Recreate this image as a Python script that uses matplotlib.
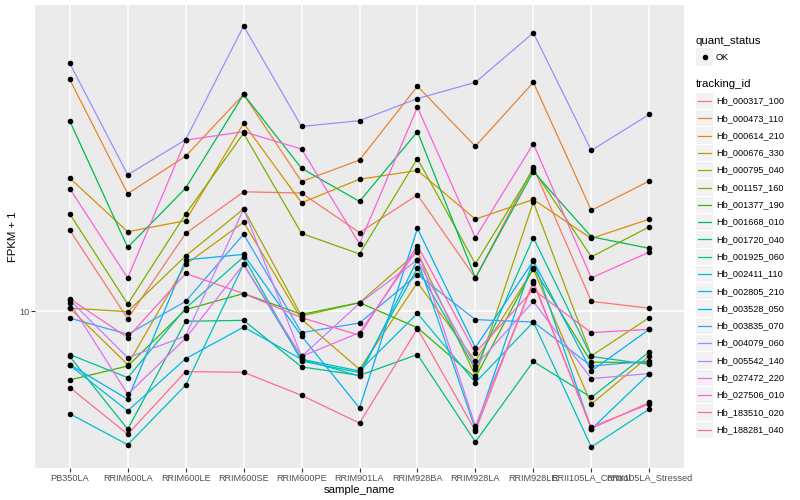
import matplotlib
matplotlib.use("Agg")
import matplotlib.pyplot as plt
from matplotlib.patches import Rectangle
import numpy as np

plt.rcParams['font.family'] = ['Liberation Sans', 'DejaVu Sans']

samples = ["PB350LA", "RRIM600LA", "RRIM600LE", "RRIM600SE", "RRIM600PE", "RRIM901LA",
           "RRIM928BA", "RRIM928LA", "RRIM928LE", "RRII105LA_Control", "RRII105LA_Stressed"]

tracking_ids = ["Hb_000317_100", "Hb_000473_110", "Hb_000614_210", "Hb_000676_330",
                "Hb_000795_040", "Hb_001157_160", "Hb_001377_190", "Hb_001668_010",
                "Hb_001720_040", "Hb_001925_060", "Hb_002411_110", "Hb_002805_210",
                "Hb_003528_050", "Hb_003835_070", "Hb_004079_060", "Hb_005542_140",
                "Hb_027472_220", "Hb_027506_010", "Hb_183510_020", "Hb_188281_040"]

# ggplot default hue palette for 20 groups
colours = ["#F8766D", "#EA8331", "#D89000", "#C09B00", "#A3A500", "#7CAE00", "#39B600",
           "#00BB4E", "#00BF7D", "#00C1A3", "#00BFC4", "#00BAE0", "#00B0F6", "#35A2FF",
           "#9590FF", "#C77CFF", "#E76BF3", "#FA62DB", "#FF62BC", "#FF6C91"]

# FPKM + 1 per sample
hb_000317_100 = [17.6, 9.48, 17.2, 23.0, 22.8, 17.3, 22.5, 12.6, 27.3, 10.7, 10.2]
hb_000473_110 = [50.4, 22.7, 29.5, 45.4, 24.7, 28.7, 48.1, 31.6, 49.4, 20.2, 24.8]
hb_000614_210 = [25.3, 17.4, 18.8, 37.1, 21.3, 25.1, 26.7, 19.0, 21.8, 16.6, 19.0]
hb_000676_330 = [10.2, 6.88, 13.85, 18.6, 9.44, 6.66, 12.2, 7.05, 13.4, 5.22, 7.31]
hb_000795_040 = [10.2, 9.96, 14.7, 20.4, 9.66, 10.6, 15.1, 6.35, 21.4, 7.31, 9.55]
hb_001157_160 = [19.7, 10.5, 19.7, 34.6, 17.2, 14.9, 29.0, 13.9, 26.9, 14.6, 18.0]
hb_001377_190 = [6.18, 6.81, 10.1, 11.3, 9.77, 10.6, 8.90, 6.28, 13.5, 7.00, 6.97]
hb_001668_010 = [37.7, 15.6, 23.6, 45.4, 27.1, 21.5, 35.0, 12.6, 26.5, 16.8, 15.5]
hb_001720_040 = [7.28, 4.38, 9.31, 9.37, 6.77, 6.38, 7.38, 4.01, 7.03, 5.47, 7.51]
hb_001925_060 = [7.38, 6.28, 10.2, 14.6, 7.05, 6.51, 13.5, 6.66, 16.7, 7.28, 6.89]
hb_002411_110 = [4.88, 3.93, 5.96, 13.85, 7.14, 6.58, 9.84, 6.07, 9.26, 3.87, 5.04]
hb_002805_210 = [6.85, 4.98, 7.17, 8.94, 7.14, 6.35, 14.3, 4.38, 14.3, 4.38, 6.46]
hb_003528_050 = [6.88, 5.40, 14.3, 14.85, 8.40, 5.08, 17.8, 7.75, 14.2, 6.58, 8.80]
hb_003835_070 = [9.52, 8.50, 10.7, 17.1, 8.60, 9.20, 12.9, 9.42, 9.26, 6.81, 7.05]
hb_004079_060 = [56.4, 25.9, 33.1, 73.2, 36.3, 37.8, 44.1, 49.4, 69.8, 30.7, 39.5]
hb_005542_140 = [10.8, 7.22, 8.40, 20.4, 7.28, 10.55, 14.3, 6.81, 10.7, 6.24, 6.46]
hb_027472_220 = [10.6, 5.59, 8.27, 13.85, 7.28, 8.60, 15.4, 4.48, 12.2, 4.45, 5.22]
hb_027506_010 = [23.5, 12.6, 33.0, 35.0, 31.0, 16.0, 41.5, 16.7, 32.2, 12.6, 15.1]
hb_183510_020 = [10.9, 8.31, 13.0, 11.3, 9.55, 8.44, 15.8, 7.48, 11.6, 8.60, 8.80]
hb_188281_040 = [5.86, 4.23, 6.55, 6.52, 5.55, 4.57, 8.84, 4.33, 12.3, 4.40, 5.28]

series = [hb_000317_100, hb_000473_110, hb_000614_210, hb_000676_330, hb_000795_040,
          hb_001157_160, hb_001377_190, hb_001668_010, hb_001720_040, hb_001925_060,
          hb_002411_110, hb_002805_210, hb_003528_050, hb_003835_070, hb_004079_060,
          hb_005542_140, hb_027472_220, hb_027506_010, hb_183510_020, hb_188281_040]

fig = plt.figure(figsize=(8, 5), dpi=100)
ax = fig.add_axes([35 / 800, 1 - 468 / 500, 649 / 800, 463 / 500])
ax.set_facecolor("#EBEBEB")

x = np.arange(1, len(samples) + 1)
for values, col in zip(series, colours):
    ax.plot(x, values, color=col, lw=0.9, zorder=2)
for values in series:
    ax.plot(x, values, 'o', color='black', ms=3.0, zorder=3)

ax.set_yscale('log')
allv = np.concatenate([np.array(s) for s in series])
lo, hi = np.log10(allv.min()), np.log10(allv.max())
pad = (hi - lo) * 0.05
ax.set_ylim(10 ** (lo - pad), 10 ** (hi + pad))
ax.set_xlim(0.4, len(samples) + 0.6)
ax.set_yticks([10])
ax.set_yticklabels(["10"])
ax.yaxis.set_minor_locator(matplotlib.ticker.NullLocator())
ax.set_xticks(x)
ax.set_xticklabels(samples)
ax.grid(True, color="white", lw=1.1, zorder=0)
ax.set_axisbelow(True)
for s in ax.spines.values():
    s.set_visible(False)
ax.tick_params(length=2.6, width=0.8, color="#333333", labelcolor="#4D4D4D",
               labelsize=6.6, pad=1.5)
ax.set_xlabel("sample_name", fontsize=8.2, color="black", labelpad=1.5)
ax.set_ylabel("FPKM + 1", fontsize=8.2, color="black", labelpad=1)

# legend drawn in figure pixel space
lax = fig.add_axes([0, 0, 1, 1], zorder=5)
lax.set_xlim(0, 800)
lax.set_ylim(500, 0)
lax.axis("off")
key_x, key_w, key_h = 696, 17, 17.3
lax.text(key_x, 41, "quant_status", fontsize=8.2, va="center", ha="left")
lax.add_patch(Rectangle((key_x, 57 - key_h / 2), key_w, key_h, color="#F2F2F2", lw=0))
lax.plot([key_x + key_w / 2], [57], 'o', color="black", ms=3.0)
lax.text(key_x + 20, 57, "OK", fontsize=6.6, va="center", ha="left")
lax.text(key_x, 84, "tracking_id", fontsize=8.2, va="center", ha="left")
for i, (tid, col) in enumerate(zip(tracking_ids, colours)):
    yc = 101 + i * key_h
    lax.add_patch(Rectangle((key_x, yc - key_h / 2 + 0.5), key_w, key_h - 1,
                            color="#F2F2F2", lw=0))
    lax.plot([key_x + 2, key_x + key_w - 2], [yc, yc], color=col, lw=0.9)
    lax.text(key_x + 20, yc, tid, fontsize=6.6, va="center", ha="left")

fig.savefig("out.png", dpi=100)
